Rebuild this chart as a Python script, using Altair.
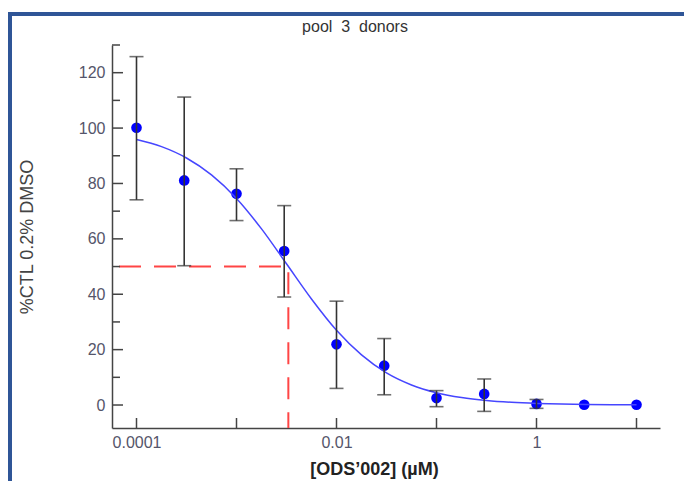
import altair as alt
import pandas as pd

# ---- data ----
conc = [0.0001, 0.0003, 0.001, 0.003, 0.01, 0.03, 0.1, 0.3, 1, 3, 10]
mean = [100.1, 81.1, 76.3, 55.6, 21.9, 14.2, 2.5, 4.0, 0.4, 0.1, 0.1]
err_hi = [125.8, 111.2, 85.3, 72.0, 37.5, 24.0, 5.2, 9.4, 2.0, None, None]
err_lo = [74.1, 50.3, 66.6, 39.0, 6.0, 3.7, -0.6, -2.3, -1.2, None, None]

# fitted curve (quarter-decade steps)
curve_x = [1e-4, 1.78e-4, 3.16e-4, 5.62e-4, 1e-3, 1.78e-3, 3.16e-3, 5.62e-3,
           1e-2, 1.78e-2, 3.16e-2, 5.62e-2, 1e-1, 1.78e-1, 3.16e-1, 5.62e-1,
           1, 1.78, 3.16, 5.62, 10]
curve_y = [95.9, 93.3, 89.2, 83.1, 74.6, 63.6, 51.0, 38.3, 27.0, 18.1, 11.6,
           7.25, 4.45, 2.70, 1.63, 0.97, 0.58, 0.35, 0.21, 0.12, 0.07]

ic50 = 0.0033
half = 50
x_min, x_max = 10 ** -4.245, 10 ** 1.235
y_min, y_max = -8.3, 130

x_label_vals = [0.0001, 0.01, 1]
y_label_vals = [0, 20, 40, 60, 80, 100, 120]
y_minor = [10, 30, 50, 70, 90, 110, 130]
x_ticks = [0.0001, 0.001, 0.01, 0.1, 1, 10]

title_text = "pool\u00a0\u00a03\u00a0\u00a0donors"
x_title = "[ODS\u2019002] (\u00b5M)"
y_title = "%CTL 0.2% DMSO"

W, H = 548, 383

pts = pd.DataFrame({"x": conc, "y": mean, "hi": err_hi, "lo": err_lo})
curve = pd.DataFrame({"x": curve_x, "y": curve_y})
ic = pd.DataFrame({"x": [x_min, ic50, ic50], "y": [half, half, y_min], "o": [0, 1, 2]})

xs = alt.Scale(type="log", domain=[x_min, x_max], nice=False)
ys = alt.Scale(domain=[y_min, y_max], nice=False, zero=False)

x_axis = alt.Axis(values=x_label_vals, format="~g", ticks=False, tickSize=0, grid=False,
                  labelPadding=6, labelFontSize=16, labelColor="#55556a",
                  domainColor="#444444", domainWidth=1.5,
                  title=x_title, titleFontSize=18, titleFontWeight="bold", titleColor="#222222",
                  titleX=262, titleY=41, titleBaseline="middle", titleAlign="center")
y_axis = alt.Axis(values=y_label_vals, ticks=False, tickSize=0, grid=False,
                  labelPadding=7, labelFontSize=16, labelColor="#55556a",
                  domainColor="#444444", domainWidth=1.5,
                  title=y_title, titleFontSize=18, titleFontWeight="normal", titleColor="#444444",
                  titleX=-85, titleY=191.5, titleBaseline="middle", titleAlign="center")


def X(field="x"):
    return alt.X(f"{field}:Q", scale=xs, axis=x_axis, title=x_title)


def Y(field="y"):
    return alt.Y(f"{field}:Q", scale=ys, axis=y_axis, title=y_title)


points = alt.Chart(pts).mark_circle(size=113, color="#0000ff", opacity=1).encode(x=X(), y=Y())

bars = alt.Chart(pts).transform_filter("isValid(datum.hi)").mark_rule(
    color="#333333", strokeWidth=1.6).encode(x=X(), y=Y("hi"), y2="lo:Q")
cap_hi = alt.Chart(pts).transform_filter("isValid(datum.hi)").mark_tick(
    orient="horizontal", size=14, thickness=1.6, color="#333333").encode(x=X(), y=Y("hi"))
cap_lo = alt.Chart(pts).transform_filter("isValid(datum.hi)").mark_tick(
    orient="horizontal", size=14, thickness=1.6, color="#333333").encode(x=X(), y=Y("lo"))

fit = alt.Chart(curve).mark_line(color="#4646ff", strokeWidth=1.5, interpolate="monotone").encode(
    x=X(), y=Y())

dash = alt.Chart(ic).mark_line(color="#ff4545", strokeWidth=2, strokeDash=[22, 13],
                               strokeDashOffset=-7).encode(
    x=X(), y=Y(), order="o:Q")

ytick_major = alt.Chart(pd.DataFrame({"y": y_label_vals})).mark_rule(
    color="#444444", strokeWidth=1.5).encode(x=alt.value(0), x2=alt.value(11), y=Y())
ytick_minor = alt.Chart(pd.DataFrame({"y": y_minor})).mark_rule(
    color="#444444", strokeWidth=1.5).encode(x=alt.value(0), x2=alt.value(8), y=Y())
xtick = alt.Chart(pd.DataFrame({"x": x_ticks})).mark_rule(
    color="#444444", strokeWidth=1.5).encode(x=X(), y=alt.value(H), y2=alt.value(H - 10))

one = pd.DataFrame({"t": [title_text]})
title = alt.Chart(one).mark_text(font="Liberation Sans", fontSize=16, color="#333333",
                                 align="center", baseline="middle").encode(
    text="t:N", x=alt.value(243), y=alt.value(-18))

frame_top = alt.Chart(one).mark_rule(color="#2f5597", strokeWidth=4).encode(
    x=alt.value(-104), x2=alt.value(580), y=alt.value(-31))
frame_left = alt.Chart(one).mark_rule(color="#2f5597", strokeWidth=4).encode(
    x=alt.value(-102), y=alt.value(-33), y2=alt.value(445))

chart = alt.layer(
    points, frame_top, frame_left, dash, fit, bars, cap_hi, cap_lo,
    ytick_major, ytick_minor, xtick, title
).properties(
    width=W, height=H,
    autosize=alt.AutoSizeParams(type="none"),
    padding={"left": 104, "top": 37, "right": 24, "bottom": 53},
    background="white"
).configure_view(stroke=None).configure_axis(
    labelFont="Liberation Sans", titleFont="Liberation Sans"
)

chart.save("out.html", embed_options={"renderer": "svg", "actions": False})
